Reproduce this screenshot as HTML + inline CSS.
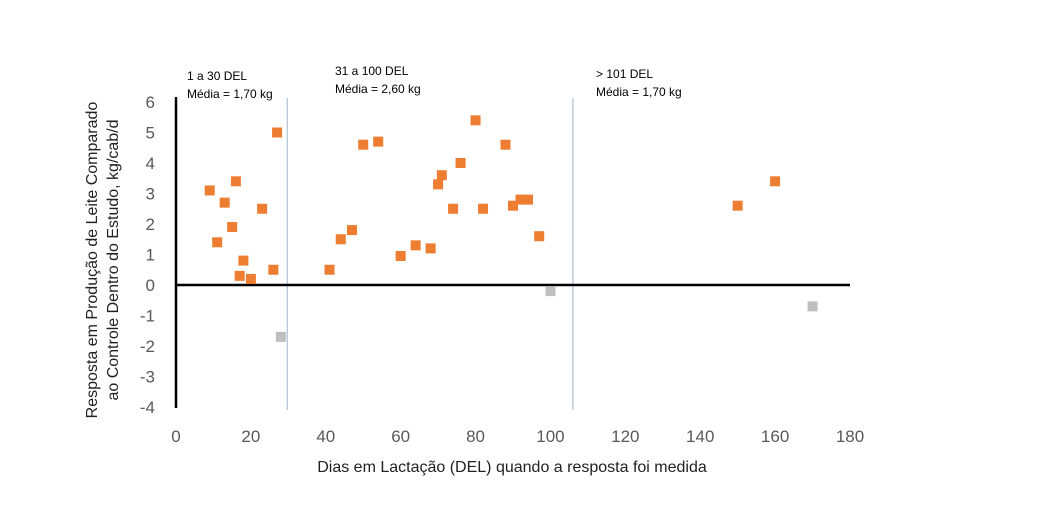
<!DOCTYPE html>
<html><head><meta charset="utf-8"><style>
body{margin:0;background:#fff;}
svg text{font-family:"Liberation Sans",sans-serif;}
</style></head><body>
<svg id="chart" width="1047" height="510" xmlns="http://www.w3.org/2000/svg">
<rect width="1047" height="510" fill="#fff"/>
<g id="grid"></g>
<g id="marks"></g>
<g id="ticks"></g>
<text x="187" y="80" font-size="12" fill="#000">1 a 30 DEL</text>
<text x="187" y="98" font-size="12" fill="#000">Média = 1,70 kg</text>
<text x="335" y="75" font-size="12" fill="#000">31 a 100 DEL</text>
<text x="335" y="93" font-size="12" fill="#000">Média = 2,60 kg</text>
<text x="596" y="78" font-size="12" fill="#000">&gt; 101 DEL</text>
<text x="596" y="96" font-size="12" fill="#000">Média = 1,70 kg</text>
<text x="512" y="472" font-size="16" fill="#222" text-anchor="middle">Dias em Lactação (DEL) quando a resposta foi medida</text>
<g transform="translate(97,260) rotate(-90)">
<text x="0" y="0" font-size="16" fill="#222" text-anchor="middle">Resposta em Produção de Leite Comparado</text>
<text x="0" y="21" font-size="16" fill="#222" text-anchor="middle">ao Controle Dentro do Estudo, kg/cab/d</text>
</g>
</svg>
<script>
const xTicks=[0,20,40,60,80,100,120,140,160,180];
const yTicks=[6,5,4,3,2,1,0,-1,-2,-3,-4];
const orangeX=[9,11,13,15,16,17,18,20,23,26,27,41,44,47,50,54,60,64,68,70,71,74,76,80,82,88,90,92,94,97,150,160];
const orangeY=[3.1,1.4,2.7,1.9,3.4,0.3,0.8,0.2,2.5,0.5,5.0,0.5,1.5,1.8,4.6,4.7,0.95,1.3,1.2,3.3,3.6,2.5,4.0,5.4,2.5,4.6,2.6,2.8,2.8,1.6,2.6,3.4];
const grayX=[28,100,170];
const grayY=[-1.7,-0.2,-0.7];
const dividers=[29.7,106];
const NS="http://www.w3.org/2000/svg";
const sx=v=>176+v*(850-176)/180;
const sy=v=>285-v*30.5;
function mk(tag,attrs,parent){const e=document.createElementNS(NS,tag);for(const k in attrs)e.setAttribute(k,attrs[k]);document.getElementById(parent).appendChild(e);return e;}
dividers.forEach(d=>{
 const l=mk('line',{x1:sx(d),x2:sx(d),y1:98,y2:410,stroke:'#9fb3c8','stroke-width':1},'grid');
 
 
});
const ya=mk('line',{x1:176,x2:176,y1:97,y2:408,stroke:'#000','stroke-width':2.5},'grid');


const xa=mk('line',{x1:176,x2:850,y1:sy(0),y2:sy(0),stroke:'#000','stroke-width':2.5},'grid');


orangeX.forEach((x,i)=>{
 const r=mk('rect',{x:sx(x)-5,y:sy(orangeY[i])-5,width:10,height:10,fill:'#ed7d31'},'marks');
 
 
});
grayX.forEach((x,i)=>{
 const r=mk('rect',{x:sx(x)-5,y:sy(grayY[i])-5,width:10,height:10,fill:'#bfbfbf'},'marks');
 
 
});
xTicks.forEach(t=>{
 const e=mk('text',{x:sx(t),y:442,'font-size':17,fill:'#595959','text-anchor':'middle'},'ticks');
 e.textContent=t;
 
 
});
yTicks.forEach(t=>{
 const e=mk('text',{x:155,y:sy(t)+6,'font-size':17,fill:'#595959','text-anchor':'end'},'ticks');
 e.textContent=t;
 
 
});
</script>
</body></html>
